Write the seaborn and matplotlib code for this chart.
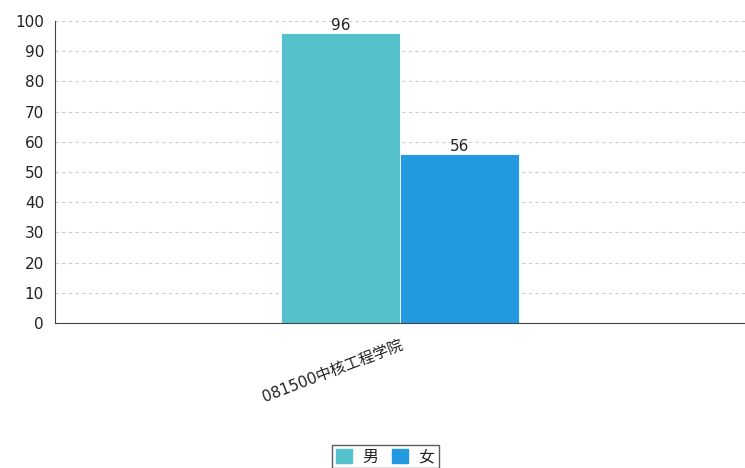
import pandas as pd
import matplotlib
matplotlib.use('Agg')
import matplotlib.pyplot as plt
import seaborn as sns

# data
categories = ['081500中核工程学院']
genders = ['男', '女']
male_counts = [96]
female_counts = [56]
colors = ['#55c1cd', '#2399e0']

rows = []
for i, cat in enumerate(categories):
    rows.append({'college': cat, 'gender': genders[0], 'count': male_counts[i]})
    rows.append({'college': cat, 'gender': genders[1], 'count': female_counts[i]})
df = pd.DataFrame(rows)

sns.set_style('white')
plt.rcParams['font.family'] = ['DejaVu Sans', 'Noto Sans CJK SC']

fig = plt.figure(figsize=(7.45, 4.68), dpi=100)
ax = fig.add_axes([0.074, 0.31, 0.926, 0.645])

sns.barplot(data=df, x='college', y='count', hue='gender', palette=colors,
            width=0.345, gap=0, saturation=1, edgecolor='white', linewidth=0.6,
            ax=ax, legend=False)

for cont in ax.containers:
    ax.bar_label(cont, fontsize=11, color='#222222', padding=0)

ax.set_xlim(-0.5, 0.5)
ax.set_ylim(0, 100)
ax.set_yticks(range(0, 101, 10))
ax.yaxis.grid(True, linestyle=(0, (3, 3)), color='#cccccc', linewidth=0.8)
ax.set_axisbelow(True)
ax.set_xlabel('')
ax.set_ylabel('')
for s in ['top', 'right']:
    ax.spines[s].set_visible(False)
ax.spines['left'].set_color('#444444')
ax.spines['bottom'].set_color('#444444')
ax.tick_params(axis='y', labelsize=11, length=0, pad=8, labelcolor='#222222')
ax.tick_params(axis='x', labelsize=11, length=0, pad=10, labelcolor='#222222')
plt.setp(ax.get_xticklabels(), rotation=21, ha='right', rotation_mode='anchor')

handles = [plt.Rectangle((0, 0), 1, 1, color=c) for c in colors]
leg = fig.legend(handles, genders, loc='lower center', bbox_to_anchor=(0.517, -0.018),
                 ncol=2, fontsize=11.5, frameon=True, fancybox=False,
                 handlelength=1.0, handleheight=1.0, handletextpad=0.7,
                 columnspacing=0.8, borderpad=0.25, edgecolor='#333333')
leg.get_frame().set_linewidth(1)

fig.savefig('out.png', dpi=100)
